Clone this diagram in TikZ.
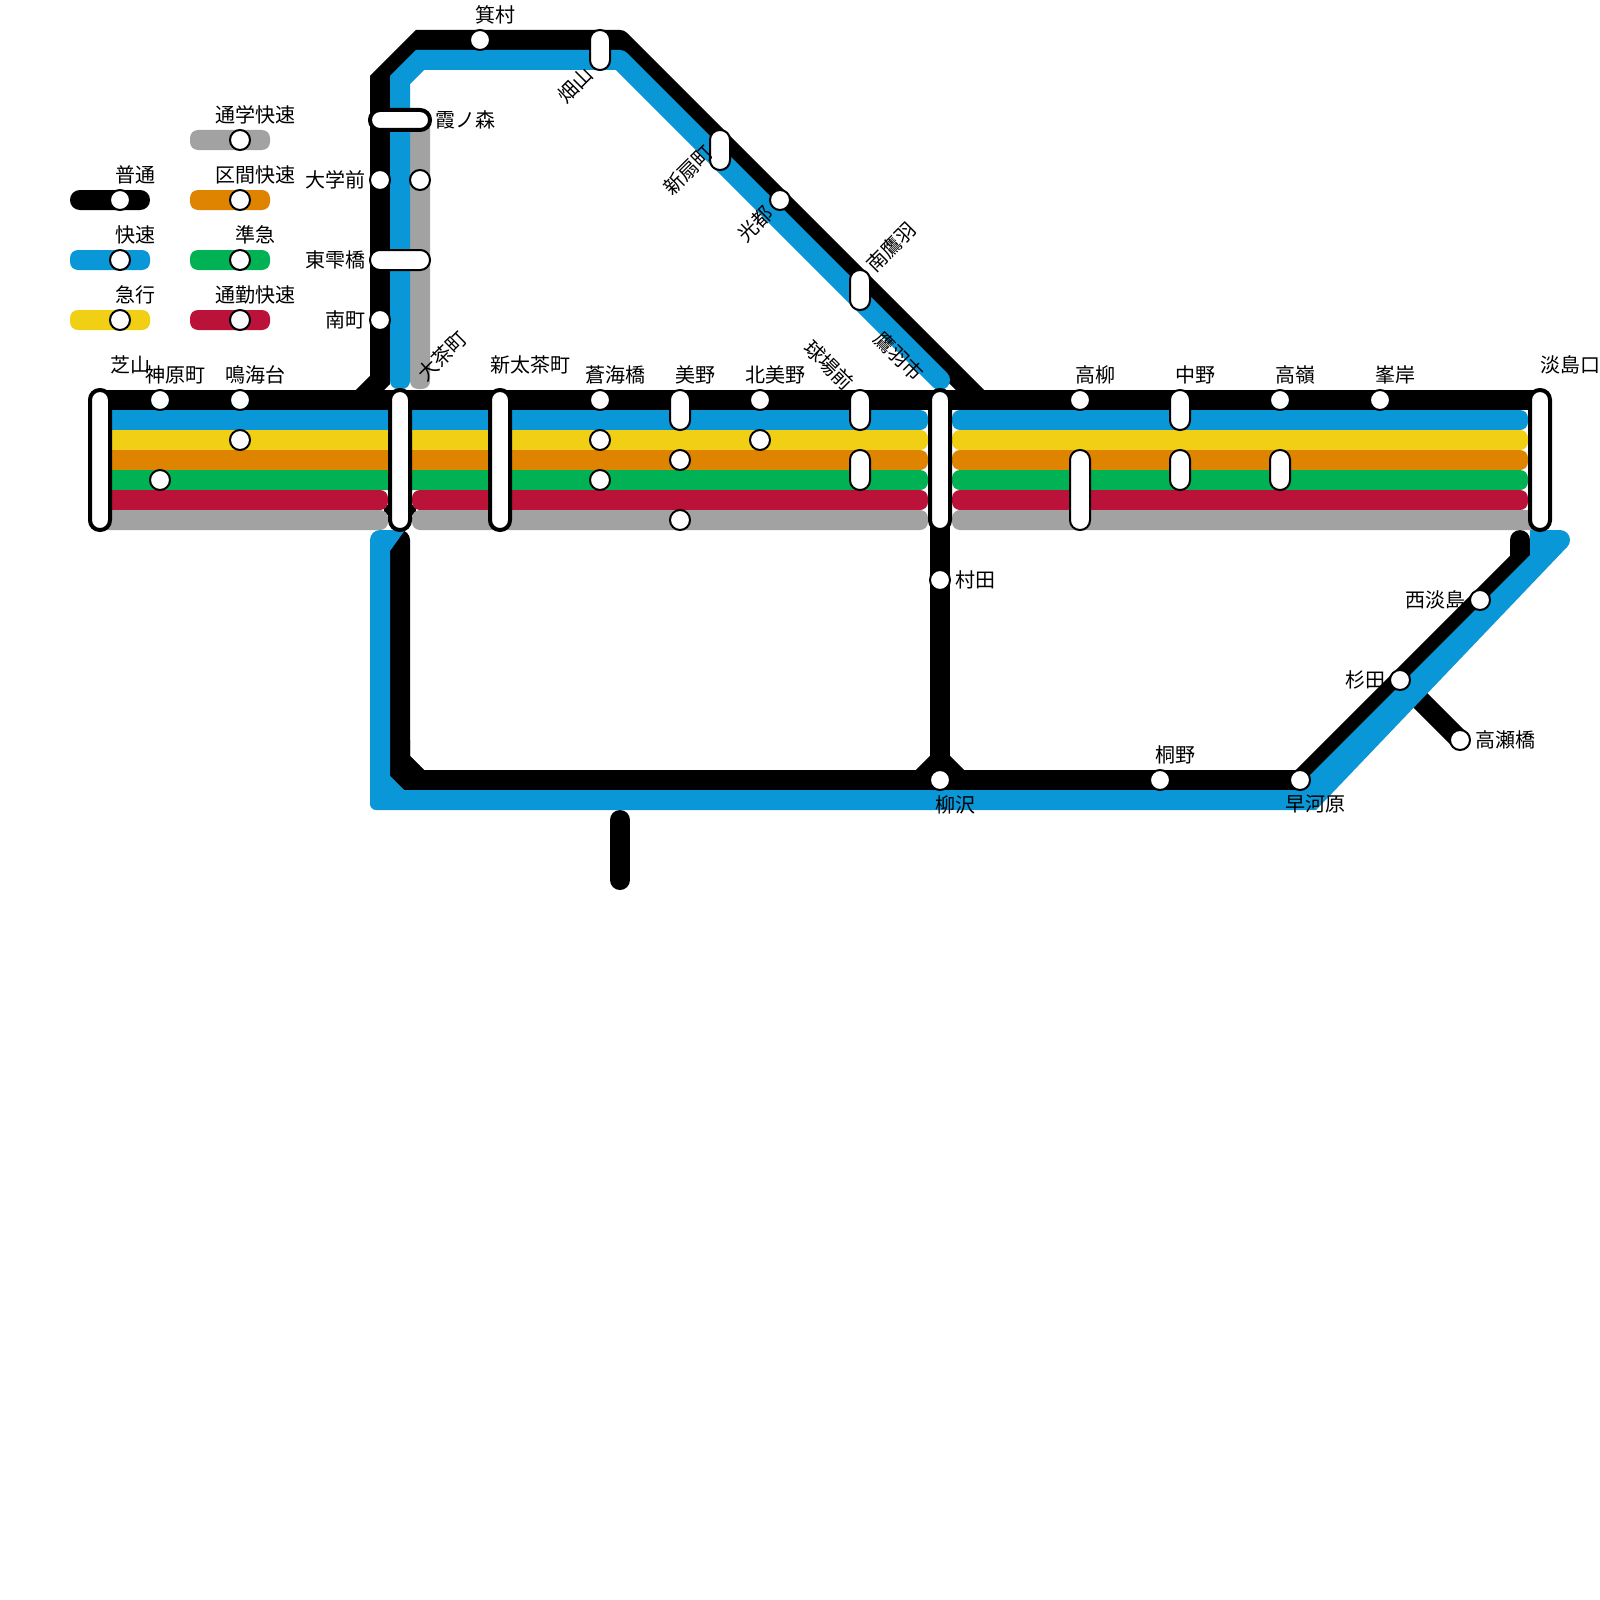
\documentclass[tikz,border=0pt]{standalone}
\usepackage{fontspec}
\setmainfont{Noto Sans CJK JP}
\definecolor{lblue}{HTML}{0997D7}
\definecolor{lyellow}{HTML}{F0CF14}
\definecolor{lorange}{HTML}{DE8400}
\definecolor{lgreen}{HTML}{01B254}
\definecolor{lred}{HTML}{BB1239}
\definecolor{lgray}{HTML}{A2A2A2}
\tikzset{
  x=0.5pt,y=-0.5pt,
  track/.style={line width=10pt,line join=miter,miter limit=10},
  roundtrack/.style={line width=10pt,line cap=round},
  rowbar/.style={rounded corners=4pt},
  stop/.style={circle,draw=black,fill=white,line width=1pt,minimum size=10pt,inner sep=0pt,outer sep=0pt},
  pill/.style={rectangle,draw=black,fill=white,line width=1pt,rounded corners=4.9pt,minimum width=10pt,inner sep=0pt,outer sep=0pt},
  widepill/.style={pill,minimum height=10pt},
  heavy/.style={line width=2pt},
  lab/.style={font=\fontsize{10pt}{10pt}\selectfont,inner sep=0pt,text=black},
}
\newcommand{\rowfill}[5]{\fill[#1,rowbar] (#2,#4) rectangle (#3,#5);}
\begin{document}
\begin{tikzpicture}
\useasboundingbox (0,0) rectangle (1600,1600);
\fill[white] (0,0) rectangle (1600,1600);
% named bends
\coordinate (bA) at (360,400);
\coordinate (bB) at (380,380);
\coordinate (bC) at (380,80);
\coordinate (bD) at (420,40);
\coordinate (bE) at (620,40);
\coordinate (bF) at (980,400);
\coordinate (rowL) at (100,400);
\coordinate (rowR) at (1540,400);
\coordinate (lowA) at (400,540);
\coordinate (lowB) at (400,760);
\coordinate (lowC) at (420,780);
\coordinate (lowD) at (1300,780);
\coordinate (lowE) at (1520,560);
\coordinate (lowF) at (1520,540);
\coordinate (lowG) at (920,780);
\coordinate (lowH) at (940,760);
\coordinate (lowI) at (960,780);
\coordinate (lowJ) at (940,400);
\coordinate (stubA) at (620,820);
\coordinate (stubB) at (620,880);
\coordinate (brA) at (1400,680);
\coordinate (brB) at (1460,740);
\coordinate (blA) at (400,381);
\coordinate (blB) at (400,80);
\coordinate (blC) at (420,60);
\coordinate (blD) at (620,60);
\coordinate (blE) at (940,380);
% black lines
\draw[track] (rowL) -- (rowR);
\draw[track] (bA) -- (bB) -- (bC) -- (bD) -- (bE);
\draw[roundtrack] (bE) -- (bF);
\draw[track,line cap=butt] (lowA) -- (lowB) -- (lowC) -- (lowD) -- (lowE) -- (lowF);
\fill (lowA) circle[radius=10];
\fill (lowD) circle[radius=10];
\fill (lowF) circle[radius=10];
\fill (390,740) -- (390,776) -- (404,790) -- (430,790) -- (430,770) -- (424,770) -- (410,756) -- (410,740) -- cycle;
\draw[track] (lowJ) -- (lowH);
\draw[track] (lowG) -- (lowH) -- (lowI);
\draw[roundtrack] (stubA) -- (stubB);
\draw[track] (brA) -- (brB);
\fill (384,505) rectangle (416,515);
% rows, left section
\rowfill{lblue}{95}{405}{410}{430}
\rowfill{lyellow}{95}{405}{430}{450}
\rowfill{lorange}{95}{405}{450}{470}
\rowfill{lgreen}{95}{405}{470}{490}
\rowfill{lred}{95}{388}{490}{510}
\rowfill{lgray}{95}{388}{510}{530}
% rows, middle section
\rowfill{lblue}{395}{928}{410}{430}
\rowfill{lyellow}{395}{928}{430}{450}
\rowfill{lorange}{395}{928}{450}{470}
\rowfill{lgreen}{395}{928}{470}{490}
\rowfill{lred}{412}{928}{490}{510}
\rowfill{lgray}{412}{928}{510}{530}
% rows, right section
\rowfill{lblue}{952}{1528}{410}{430}
\rowfill{lyellow}{952}{1528}{430}{450}
\rowfill{lorange}{952}{1528}{450}{470}
\rowfill{lgreen}{952}{1528}{470}{490}
\rowfill{lred}{952}{1528}{490}{510}
\rowfill{lgray}{952}{1545}{510}{530}
% upper blue and gray
\fill[lblue,rowbar] (390,360) rectangle (410,389);
\fill[lgray,rowbar] (410,115) rectangle (430,389);
\draw[track,lblue] (blA) -- (blB) -- (blC) -- (blD);
\draw[roundtrack,lblue] (blD) -- (blE);
% lower blue as one shape
\fill[lblue] (1560,540) circle[radius=10];
\fill[lblue] (390,530)
  [rounded corners=5pt] -- (370,530)
  [rounded corners=3pt] -- (370,810)
  [sharp corners] -- (1316,810) -- (1567,547) -- (1560,530)
  -- (1530,530) -- (1530,555) -- (1295,790) -- (404,790) -- (390,776) -- (390,551) -- (405,530) -- cycle;
% legend bars
\fill[black,rounded corners=4.9pt] (70,190) rectangle (150,210);
\fill[lblue,rowbar] (70,250) rectangle (150,270);
\fill[lyellow,rowbar] (70,310) rectangle (150,330);
\fill[lgray,rowbar] (190,130) rectangle (270,150);
\fill[lorange,rowbar] (190,190) rectangle (270,210);
\fill[lgreen,rowbar] (190,250) rectangle (270,270);
\fill[lred,rowbar] (190,310) rectangle (270,330);
% legend stops
\node[stop] (k1) at (120,200) {};
\node[stop] (k2) at (120,260) {};
\node[stop] (k3) at (120,320) {};
\node[stop] (k4) at (240,140) {};
\node[stop] (k5) at (240,200) {};
\node[stop] (k6) at (240,260) {};
\node[stop] (k7) at (240,320) {};
% stations
\node[pill,heavy,minimum height=70pt] (s1) at (100,460) {};
\node[stop] (s2a) at (160,400) {};
\node[stop] (s2b) at (160,480) {};
\node[stop] (s3a) at (240,400) {};
\node[stop] (s3b) at (240,440) {};
\node[pill,heavy,minimum height=70pt] (s4) at (400,460) {};
\node[pill,heavy,minimum height=70pt] (s5) at (500,460) {};
\node[stop] (s6a) at (600,400) {};
\node[stop] (s6b) at (600,440) {};
\node[stop] (s6c) at (600,480) {};
\node[pill,minimum height=20pt] (s7a) at (680,410) {};
\node[stop] (s7b) at (680,460) {};
\node[stop] (s7c) at (680,520) {};
\node[stop] (s8a) at (760,400) {};
\node[stop] (s8b) at (760,440) {};
\node[pill,minimum height=20pt] (s9a) at (860,410) {};
\node[pill,minimum height=20pt] (s9b) at (860,470) {};
\node[pill,heavy,minimum height=70pt] (s10) at (940,460) {};
\node[stop] (s11a) at (1080,400) {};
\node[pill,minimum height=40pt] (s11b) at (1080,490) {};
\node[pill,minimum height=20pt] (s12a) at (1180,410) {};
\node[pill,minimum height=20pt] (s12b) at (1180,470) {};
\node[stop] (s13a) at (1280,400) {};
\node[pill,minimum height=20pt] (s13b) at (1280,470) {};
\node[stop] (s14) at (1380,400) {};
\node[pill,heavy,minimum height=70pt] (s15) at (1540,460) {};
\node[stop] (u1) at (480,40) {};
\node[pill,minimum height=20pt] (u2) at (600,50) {};
\node[pill,minimum height=20pt] (u3) at (720,150) {};
\node[stop] (u4) at (780,200) {};
\node[pill,minimum height=20pt] (u5) at (860,290) {};
\node[widepill,heavy,minimum width=30pt] (v1) at (400,120) {};
\node[stop] (v2a) at (380,180) {};
\node[stop] (v2b) at (420,180) {};
\node[widepill,minimum width=30pt] (v3) at (400,260) {};
\node[stop] (v4) at (380,320) {};
\node[stop] (w1) at (940,580) {};
\node[stop] (w2) at (940,780) {};
\node[stop] (w3) at (1160,780) {};
\node[stop] (w4) at (1300,780) {};
\node[stop] (w5) at (1400,680) {};
\node[stop] (w6) at (1480,600) {};
\node[stop] (w7) at (1460,740) {};
% labels
\node[lab] (t01) at (135,174.5) {普通};
\node[lab] (t02) at (135,234.5) {快速};
\node[lab] (t03) at (135,294.5) {急行};
\node[lab] (t04) at (255,114.5) {通学快速};
\node[lab] (t05) at (255,174.5) {区間快速};
\node[lab] (t06) at (255,234.5) {準急};
\node[lab] (t07) at (255,294.5) {通勤快速};
\node[lab] (t08) at (130,364.5) {芝山};
\node[lab] (t09) at (175,374.5) {神原町};
\node[lab] (t10) at (255,374.5) {鳴海台};
\node[lab,rotate=45] (t11) at (442,356) {大茶町};
\node[lab] (t12) at (530,364.5) {新太茶町};
\node[lab] (t13) at (615,374.5) {蒼海橋};
\node[lab] (t14) at (695,374.5) {美野};
\node[lab] (t15) at (775,374.5) {北美野};
\node[lab,rotate=-45] (t16) at (829,365) {球場前};
\node[lab,rotate=-45] (t17) at (899,356) {鷹羽市};
\node[lab] (t18) at (1095,374.5) {高柳};
\node[lab] (t19) at (1195,374.5) {中野};
\node[lab] (t20) at (1295,374.5) {高嶺};
\node[lab] (t21) at (1395,374.5) {峯岸};
\node[lab] (t22) at (1570,364.5) {淡島口};
\node[lab] (t23) at (495,14.5) {箕村};
\node[lab,rotate=45] (t24) at (575,85) {畑山};
\node[lab,rotate=45] (t25) at (688,170) {新扇町};
\node[lab,rotate=45] (t26) at (755,224) {光都};
\node[lab,rotate=45] (t27) at (891,247) {南鷹羽};
\node[lab] (t28) at (465,119.5) {霞ノ森};
\node[lab] (t29) at (335,179.5) {大学前};
\node[lab] (t30) at (335,259.5) {東雫橋};
\node[lab] (t31) at (345,319.5) {南町};
\node[lab] (t32) at (975,579.5) {村田};
\node[lab] (t33) at (955,804.5) {柳沢};
\node[lab] (t34) at (1175,754.5) {桐野};
\node[lab] (t35) at (1315,804.5) {早河原};
\node[lab] (t36) at (1365,679.5) {杉田};
\node[lab] (t37) at (1435,599.5) {西淡島};
\node[lab] (t38) at (1505,739.5) {高瀬橋};
\end{tikzpicture}
\end{document}
